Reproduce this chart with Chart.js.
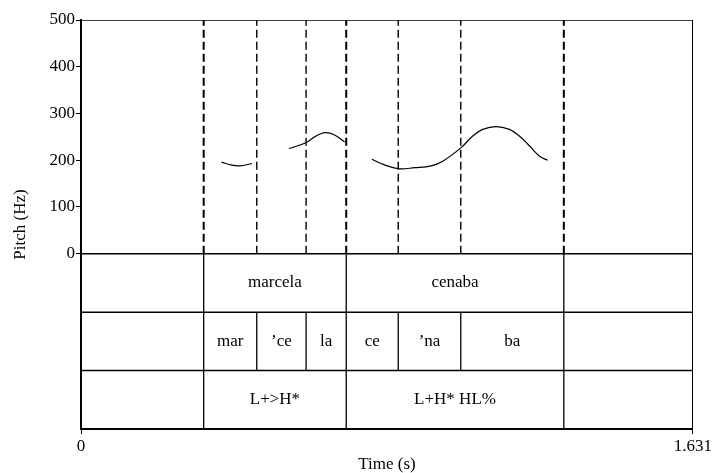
<!DOCTYPE html>
<html>
<head>
<meta charset="utf-8">
<script src="https://cdn.jsdelivr.net/npm/chart.js@4.4.0/dist/chart.umd.min.js"></script>
<style>
  html,body{margin:0;padding:0;background:#fff;}
  #wrap{width:714px;height:473px;position:relative;}
</style>
</head>
<body>
<div id="wrap"><canvas id="pitchChart"></canvas></div>
<script>
// ---- data ----
const totalDur = 1.631;
const yTicks = [0, 100, 200, 300, 400, 500];
const xTicks = [0, 1.631];

// pitch contour (s, Hz); null breaks the line into voiced stretches
const pitchTimes = [0.3745, 0.400, 0.4232, 0.456, 0.46,
  0.5544, 0.6008, 0.6228, 0.6495, 0.676, 0.7027, 0.71,
  0.7754, 0.8092, 0.8446, 0.890, 0.9335, 0.9643, 1.0133, 1.0442, 1.0708, 1.1065,
  1.1419, 1.1685, 1.1951, 1.2217, 1.2438];
const pitchHz = [196, 190, 188, 193, null,
  225, 238, 250, 259, 254, 239, null,
  202, 190, 182, 184, 188, 198, 227, 252, 266, 272,
  266, 252, 231, 209, 200];

// tiers
const wordBounds = [0.327, 0.707, 1.287];
const syllBounds = [0.4685, 0.600, 0.8456, 1.0123];
const words = ['marcela', 'cenaba'];
const wordStarts = [0.327, 0.707];
const wordEnds = [0.707, 1.287];
const sylls = ['mar', '\u2019ce', 'la', 'ce', '\u2019na', 'ba'];
const syllStarts = [0.327, 0.4685, 0.600, 0.707, 0.8456, 1.0123];
const syllEnds = [0.4685, 0.600, 0.707, 0.8456, 1.0123, 1.287];
const tones = ['L+>H*', 'L+H* HL%'];
const toneStarts = [0.327, 0.707];
const toneEnds = [0.707, 1.287];

// tier rows live below 0 Hz on the same scale
const tierLines = [0, -125, -250];
const tierMid = [-62.5, -187.5, -312.5];
const yMin = -375, yMax = 500;

const FONT = 'Liberation Serif';

function seg(x0, y0, x1, y1, width, dash) {
  return {
    data: [{x: x0, y: y0}, {x: x1, y: y1}],
    borderColor: '#000', borderWidth: width, borderDash: dash || [],
    pointRadius: 0, tension: 0, borderCapStyle: 'butt'
  };
}

const datasets = [];
datasets.push({
  data: pitchTimes.map((t, i) => ({x: t, y: pitchHz[i]})),
  borderColor: '#000', borderWidth: 1.2, pointRadius: 0,
  tension: 0.4, spanGaps: false
});
// frame top and right
datasets.push(seg(0, yMax, totalDur, yMax, 1.5));
// tier horizontals
tierLines.forEach(v => datasets.push(seg(0, v, totalDur, v, 1.5)));
// dashed boundaries in pitch area
wordBounds.forEach(t => datasets.push(seg(t, 0, t, yMax, 2, [8, 4])));
syllBounds.forEach(t => datasets.push(seg(t, 0, t, yMax, 1.4, [8, 4])));
// solid boundaries in tiers
wordBounds.forEach(t => datasets.push(seg(t, yMin, t, 0, 1.3)));
syllBounds.forEach(t => datasets.push(seg(t, -250, t, -125, 1.3)));

const tierText = {
  id: 'tierText',
  afterDatasetsDraw(chart) {
    const {ctx, scales: {x, y}} = chart;
    ctx.save();
    ctx.fillStyle = '#000';
    ctx.font = '17px "' + FONT + '"';
    ctx.textAlign = 'center';
    ctx.textBaseline = 'middle';
    const put = (labels, s, e, row) => labels.forEach((lab, i) => {
      ctx.fillText(lab, x.getPixelForValue((s[i] + e[i]) / 2), y.getPixelForValue(tierMid[row]));
    });
    put(words, wordStarts, wordEnds, 0);
    put(sylls, syllStarts, syllEnds, 1);
    put(tones, toneStarts, toneEnds, 2);
    ctx.restore();
  }
};

new Chart(document.getElementById('pitchChart'), {
  type: 'line',
  data: {datasets},
  plugins: [tierText],
  options: {
    responsive: true, maintainAspectRatio: false, animation: false,
    layout: {padding: {top: 20, right: 21, left: 0, bottom: 0}},
    plugins: {legend: {display: false}, tooltip: {enabled: false}},
    scales: {
      x: {
        type: 'linear', min: 0, max: totalDur,
        afterBuildTicks: ax => { ax.ticks = xTicks.map(v => ({value: v})); },
        afterFit: ax => { ax.height = 44; },
        ticks: {color: '#000', font: {family: FONT, size: 17}, padding: 2,
          maxRotation: 0, callback: v => v === 0 ? '0' : v.toFixed(3)},
        grid: {color: '#000', lineWidth: 1, tickLength: 5, drawOnChartArea: true},
        border: {display: true, color: '#000', width: 2},
        title: {display: true, text: 'Time (s)', color: '#000',
          font: {family: FONT, size: 17, lineHeight: 1}, padding: {top: 0, bottom: 0}}
      },
      y: {
        type: 'linear', min: yMin, max: yMax,
        afterBuildTicks: ax => { ax.ticks = yTicks.map(v => ({value: v})); },
        afterFit: ax => { ax.width = 81; },
        ticks: {color: '#000', font: {family: FONT, size: 17}, padding: 1},
        grid: {color: '#000', lineWidth: 1, tickLength: 5, drawOnChartArea: false},
        border: {display: true, color: '#000', width: 2},
        title: {display: true, text: 'Pitch (Hz)', color: '#000',
          font: {family: FONT, size: 17}, padding: {top: 10, bottom: 10}}
      }
    }
  }
});
</script>
</body>
</html>
